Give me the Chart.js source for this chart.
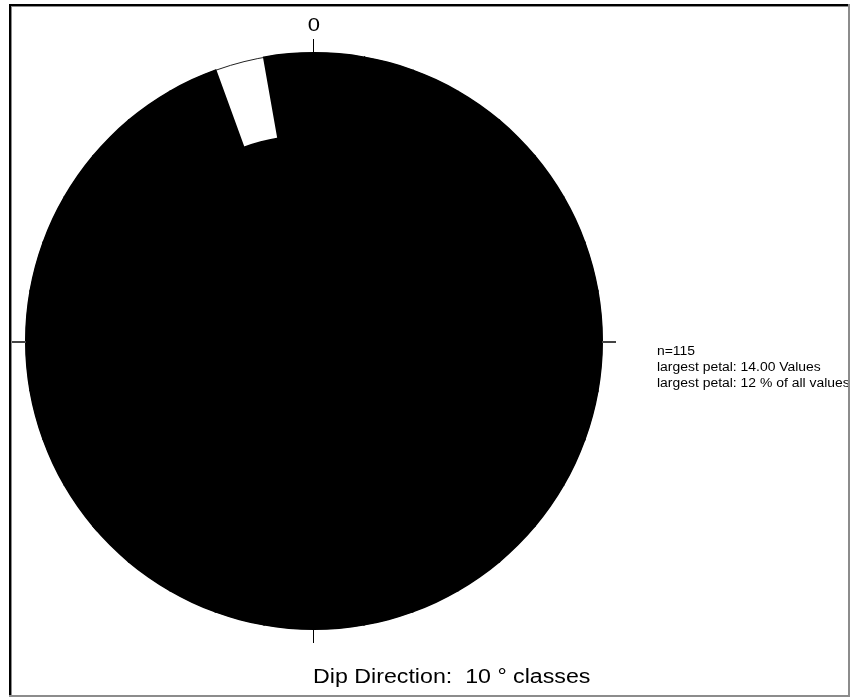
<!DOCTYPE html>
<html>
<head>
<meta charset="utf-8">
<script src="https://cdn.jsdelivr.net/npm/chart.js@4/dist/chart.umd.min.js"></script>
<style>
  html, body { margin: 0; padding: 0; background: #fff; }
  #wrap { position: relative; width: 851px; height: 698px; }
</style>
</head>
<body>
<div id="wrap"><canvas id="roseChart"></canvas></div>
<script>
// 10 degree classes, clockwise from north
const classLabels = [];
for (let d = 0; d < 360; d += 10) classLabels.push(String(d));

// petal lengths (all at max except 340-350)
const petalValues = [
    14, 14, 14, 14, 14, 14, 14, 14, 14,
    14, 14, 14, 14, 14, 14, 14, 14, 14,
    14, 14, 14, 14, 14, 14, 14, 14, 14,
    14, 14, 14, 14, 14, 14, 14, 10, 14
];

const scaleMax = 14;
const northLabel = '0';
const statsLines = ['n=115', 'largest petal: 14.00 Values', 'largest petal: 12 % of all values'];
const titleText = 'Dip Direction:  10 \u00b0 classes';

// text in the reference is a bit wider than Arial
const STRETCH = 1.16;
const FONT = '"Liberation Sans", Arial, sans-serif';

function stretchedText(ctx, text, x, y, size, align) {
    ctx.save();
    ctx.font = size + 'px ' + FONT;
    ctx.fillStyle = '#000';
    ctx.textBaseline = 'alphabetic';
    ctx.translate(x, y);
    ctx.scale(STRETCH, 1);
    let w = ctx.measureText(text).width;
    let dx = 0;
    if (align === 'center') dx = -w / 2;
    ctx.fillText(text, dx, 0);
    ctx.restore();
}

const decorations = {
    id: 'decorations',
    beforeDraw(chart) {
        const ctx = chart.ctx;
        ctx.save();
        ctx.fillStyle = '#fff';
        ctx.fillRect(0, 0, chart.width, chart.height);
        ctx.restore();
    },
    afterDraw(chart) {
        const ctx = chart.ctx;
        const r = chart.scales.r;
        const cx = r.xCenter, cy = r.yCenter, rad = r.drawingArea;
        const tick = 14;

        ctx.save();
        // compass ticks outside the circle
        ctx.strokeStyle = '#000';
        ctx.lineWidth = 1;
        ctx.beginPath();
        ctx.moveTo(cx - 0.5, cy - rad);
        ctx.lineTo(cx - 0.5, cy - rad - tick);
        ctx.moveTo(cx - 0.5, cy + rad);
        ctx.lineTo(cx - 0.5, cy + rad + tick);
        ctx.stroke();
        ctx.strokeStyle = '#444';
        ctx.lineWidth = 2;
        ctx.beginPath();
        ctx.moveTo(cx - rad, cy + 1);
        ctx.lineTo(cx - rad - tick, cy + 1);
        ctx.moveTo(cx + rad, cy + 1);
        ctx.lineTo(cx + rad + tick, cy + 1);
        ctx.stroke();

        stretchedText(ctx, northLabel, cx, cy - rad - tick - 8, 19, 'center');

        // info block
        statsLines.forEach(function(line, i) {
            stretchedText(ctx, line, 657, 355 + i * 16, 12, 'left');
        });

        stretchedText(ctx, titleText, 313, 683, 20, 'left');

        // frame
        ctx.fillStyle = '#000';
        ctx.fillRect(9, 4, 840, 2);
        ctx.fillRect(9, 4, 2, 693);
        ctx.fillStyle = '#8c8c8c';
        ctx.fillRect(11, 6, 837, 1);
        ctx.fillRect(11, 6, 1, 689);
        ctx.fillRect(848, 4, 2, 693);
        ctx.fillRect(9, 695, 841, 2);
        ctx.restore();
    }
};

const ctx = document.getElementById('roseChart');
try {
    new Chart(ctx, {
        type: 'polarArea',
        data: {
            labels: classLabels,
            datasets: [{
                data: petalValues,
                backgroundColor: '#000',
                borderColor: '#000',
                borderWidth: 2,
                borderJoinStyle: 'miter'
            }]
        },
        options: {
            responsive: true,
            maintainAspectRatio: false,
            animation: false,
            layout: {
                padding: { left: 26, top: 53, right: 249, bottom: 69 }
            },
            plugins: {
                legend: { display: false },
                tooltip: { enabled: false }
            },
            scales: {
                r: {
                    min: 0,
                    max: scaleMax,
                    startAngle: 0,
                    ticks: { display: false, stepSize: scaleMax },
                    grid: { circular: true, color: '#222', lineWidth: 1 },
                    angleLines: { display: false },
                    pointLabels: { display: false }
                }
            }
        },
        plugins: [decorations]
    });
} catch (error) {
    console.error('Chart failed', error);
}
</script>
</body>
</html>
